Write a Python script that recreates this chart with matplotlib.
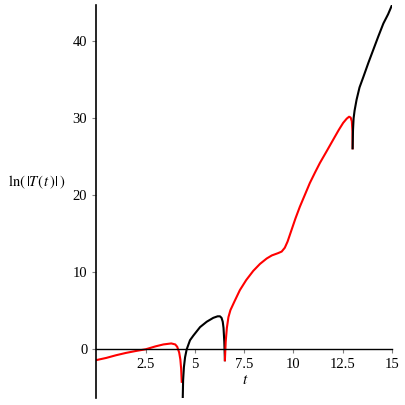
import matplotlib
matplotlib.use("Agg")
import matplotlib.pyplot as plt

# ln|T(t)|, split where T changes sign
red1_t = [0, 0.5, 1.0, 1.5, 2.0, 2.5, 3.0, 3.4, 3.8, 4.0, 4.1, 4.2, 4.26, 4.3, 4.33]
red1_y = [-1.38, -1.1, -0.75, -0.45, -0.2, 0.02, 0.4, 0.65, 0.78, 0.65, 0.35, -0.4, -1.3, -2.5, -4.2]

black1_t = [4.38, 4.40, 4.44, 4.5, 4.58, 4.75, 4.92, 5.26, 5.6, 5.93, 6.15, 6.27,
            6.35, 6.41, 6.45, 6.49, 6.52]
black1_y = [-6.5, -4.0, -2.3, -1.0, 0.0, 1.2, 1.8, 2.9, 3.6, 4.1, 4.3, 4.3,
            4.1, 3.6, 2.8, 1.0, -1.4]

red2_t = [6.52, 6.56, 6.62, 6.7, 6.8, 7.0, 7.28, 7.6, 7.96, 8.3, 8.64, 8.9, 9.22,
          9.4, 9.56, 9.7, 9.9, 10.1, 10.32, 10.6, 10.83, 11.1, 11.34, 11.7, 12.01,
          12.3, 12.52, 12.7, 12.82, 12.9, 12.96, 12.99, 13.0]
red2_y = [-1.4, 1.0, 2.8, 4.2, 5.1, 6.2, 7.7, 9.0, 10.2, 11.1, 11.8, 12.2, 12.5,
          12.7, 13.2, 14.0, 15.5, 17.0, 18.5, 20.2, 21.6, 23.0, 24.2, 25.8, 27.2,
          28.5, 29.4, 29.95, 30.2, 30.1, 29.6, 28.3, 26.1]

black2_t = [13.0, 13.02, 13.05, 13.1, 13.2, 13.35, 13.55, 13.8, 14.05, 14.3, 14.56, 14.8, 15.0]
black2_y = [26.1, 28.5, 30.0, 31.0, 32.4, 34.0, 35.4, 37.2, 38.9, 40.6, 42.3, 43.5, 44.7]

xticks = [2.5, 5, 7.5, 10, 12.5, 15]
xticklabels = ["2.5", "5", "7.5", "10", "12.5", "15"]
yticks = [0, 10, 20, 30, 40]

plt.rcParams["font.family"] = ["Liberation Serif", "DejaVu Serif"]
plt.rcParams["mathtext.fontset"] = "stix"

fig = plt.figure(figsize=(4.05, 4.05), dpi=100)
ax = fig.add_axes([0.238, 0.0173, 0.730, 0.9704])

ax.plot(red1_t, red1_y, color="red", lw=1.5)
ax.plot(black1_t, black1_y, color="black", lw=1.5)
ax.plot(red2_t, red2_y, color="red", lw=1.5)
ax.plot(black2_t, black2_y, color="black", lw=1.5)

ax.set_xlim(0, 15)
ax.set_ylim(-6.3, 44.7)

ax.spines["top"].set_visible(False)
ax.spines["right"].set_visible(False)
ax.spines["bottom"].set_position(("data", 0))
ax.spines["left"].set_position(("data", 0))
ax.spines["bottom"].set_linewidth(1.0)
ax.spines["left"].set_linewidth(1.2)

ax.set_xticks(xticks)
ax.set_xticklabels(xticklabels)
ax.set_yticks(yticks)
ax.tick_params(direction="out", length=3, width=0.8, color="gray",
               labelsize=10.5, pad=3.5)

fig.text(0.24 + 0.73 / 2, 1 - 381 / 405, r"$t$", ha="center", va="center", fontsize=11)
fig.text(37 / 405, 1 - 182 / 405, r"$\mathrm{ln}(\,|T(\,t\,)|\,)$", ha="center",
         va="center", fontsize=10.5)

fig.savefig("out.png", dpi=100)
